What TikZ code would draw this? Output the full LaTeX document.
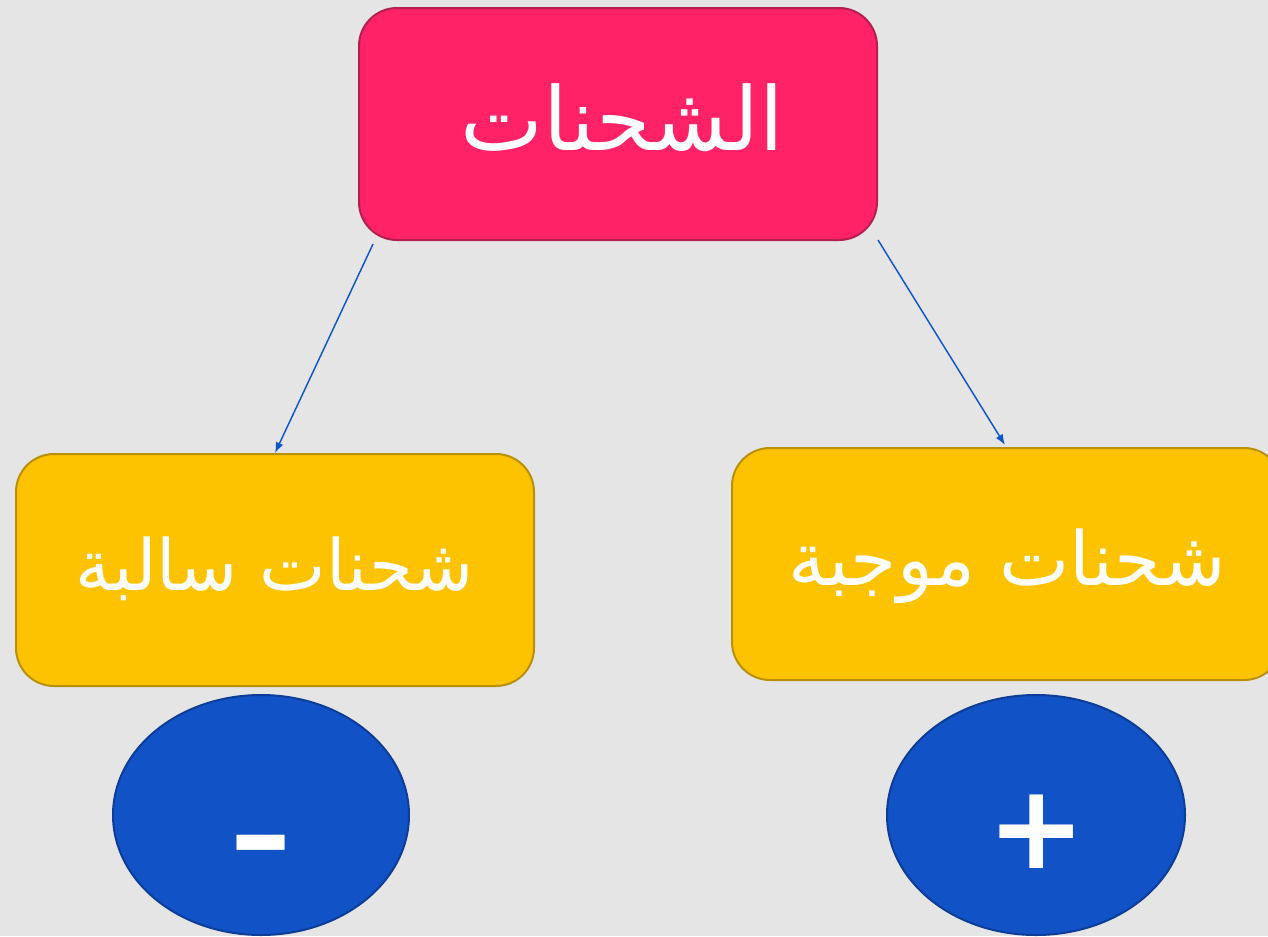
\documentclass[tikz,border=0pt]{standalone}
\usepackage{fontspec}
\usetikzlibrary{arrows.meta,shapes.geometric}
\TeXXeTstate=1
\newfontfamily\arabicfont[Script=Arabic]{DejaVu Sans}
\newfontfamily\symfont{DejaVu Sans}
\definecolor{bgc}{HTML}{E5E5E5}
\definecolor{pinkf}{HTML}{FF2266}
\definecolor{pinkd}{HTML}{B3204F}
\definecolor{yelf}{HTML}{FDC200}
\definecolor{yeld}{HTML}{B8900A}
\definecolor{bluef}{HTML}{1152C6}
\definecolor{blued}{HTML}{0D3D96}
\definecolor{arrc}{HTML}{1155CC}
\tikzset{
  box/.style={rectangle, rounded corners=28.5pt, line width=1.5pt, inner sep=0pt,
    minimum width=388.5pt, minimum height=174pt},
  topbox/.style={box, fill=pinkf, draw=pinkd},
  ybox/.style={box, fill=yelf, draw=yeld},
  oval/.style={ellipse, fill=bluef, draw=blued, line width=1.5pt, inner sep=0pt,
    minimum width=222pt, minimum height=180pt},
  lbl/.style={text=white, anchor=base, inner sep=0pt},
  conn/.style={draw=arrc, line width=1.1pt, -{Latex[length=8pt,width=6pt]}}
}
\begin{document}
\begin{tikzpicture}[x=0.75pt,y=-0.75pt]
\fill[bgc] (0,0) rectangle (1268,936);
\useasboundingbox (0,0) rectangle (1268,936);
\begin{scope}
\clip (0,0) rectangle (1268,936);
\node[topbox] (top) at (618,124) {};
\node[ybox] (neg) at (275,570) {};
\node[ybox, minimum width=412.5pt] (pos) at (1007,564) {};
\node[oval] (nego) at (261,815) {};
\node[oval, minimum width=223.5pt] (poso) at (1036,815) {};
\end{scope}
\node[lbl, font=\fontsize{66}{70}\arabicfont] (toplbl) at (622,150) {\beginR الشحنات\endR};
\node[lbl, font=\fontsize{53}{57}\arabicfont] (neglbl) at (275,590) {\beginR شحنات سالبة\endR};
\node[lbl, font=\fontsize{56}{60}\arabicfont] (poslbl) at (1007,585) {\beginR شحنات موجبة\endR};
\node[lbl, font=\fontsize{80}{84}\symfont\bfseries] (minus) at (261,873) {\scalebox{1.47}[1]{-}};
\node[lbl, font=\fontsize{88}{92}\symfont\bfseries] (plus) at (1037,868) {+};
\draw[conn] ([shift={(15,3)}]top.south west) -- (neg.north);
\draw[conn] ([shift={(0,-1)}]top.south east) -- ([shift={(-2,-2)}]pos.north);
\end{tikzpicture}
\end{document}
